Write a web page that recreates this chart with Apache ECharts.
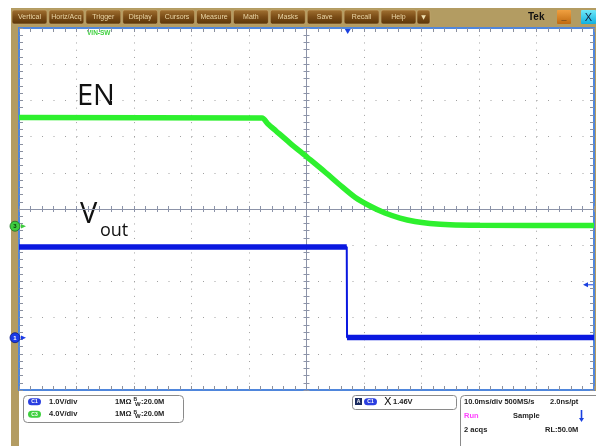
<!DOCTYPE html>
<html><head><meta charset="utf-8">
<script src="https://cdn.jsdelivr.net/npm/echarts@6/dist/echarts.min.js"></script>
<style>html,body{margin:0;padding:0;background:#fff}#c{width:596px;height:446px}</style>
</head><body><div id="c"></div>
<script>
// ---- data (time in ms, 10 ms/div; voltages in V) ----
const timeEN  = [-50, -7.74, -6.7, -5.3, -2.87, 0.09, 3.22, 5.83, 8.43, 11.04, 13.65, 16.26, 18.87, 21.48, 24.96, 30.17, 50];
const voltEN  = [12, 11.96, 11.29, 10.52, 9.19, 7.64, 5.99, 4.55, 3.2, 2.23, 1.45, 0.9, 0.52, 0.3, 0.15, 0.1, 0.08];
const timeVout = [-50, 7.0, 7.05, 50];
const voltVout = [2.5, 2.5, 0, 0];
const menuLabels = ['Vertical','Horiz/Acq','Trigger','Display','Cursors','Measure','Math','Masks','Save','Recall','Help'];
const timeRange = [-50, 50];      // 10 divisions
const gridDiv = [-5, 5];          // 10 vertical divisions
const c3Range = [-18.1, 21.9];    // 4.0 V/div
const c1Range = [-1.45, 8.55];    // 1.0 V/div

const chart = echarts.init(document.getElementById('c'), null, {renderer:'canvas'});
const BORDER = '#4f86dc', TICK = '#8a90a0', CENTER = '#8c93a8', DOT = '#a0a0a0';
const FRAME = '#b39c62';
const F = 'bold 7.5px "Liberation Sans", Arial, sans-serif';

function xa(extra){ return Object.assign({type:'value', min:timeRange[0], max:timeRange[1], interval:10,
  axisLabel:{show:false}, splitLine:{show:false}}, extra); }
function ya(extra){ return Object.assign({type:'value', min:gridDiv[0], max:gridDiv[1], interval:1,
  axisLabel:{show:false}, splitLine:{show:false}}, extra); }

const xAxis = [
  xa({position:'bottom', axisLine:{show:true, onZero:false, lineStyle:{color:BORDER, width:2}},
      axisTick:{show:true, inside:true, length:4, lineStyle:{color:TICK}},
      minorTick:{show:true, splitNumber:5, length:4, lineStyle:{color:TICK}},
      splitLine:{show:true, lineStyle:{color:DOT, width:1, type:[1, 6.24]}}}),
  xa({position:'top', axisLine:{show:true, onZero:false, lineStyle:{color:BORDER, width:2}},
      axisTick:{show:true, inside:true, length:4, lineStyle:{color:TICK}},
      minorTick:{show:true, splitNumber:5, length:4, lineStyle:{color:TICK}}}),
  xa({position:'bottom', axisLine:{show:true, onZero:true, onZeroAxisIndex:0, lineStyle:{color:CENTER, width:1}},
      axisTick:{show:true, inside:true, length:3, lineStyle:{color:CENTER}},
      minorTick:{show:true, splitNumber:5, length:3, lineStyle:{color:CENTER}}}),
  xa({position:'bottom', axisLine:{show:true, onZero:true, onZeroAxisIndex:0, lineStyle:{color:CENTER, width:1}},
      axisTick:{show:true, inside:false, length:3, lineStyle:{color:CENTER}},
      minorTick:{show:true, splitNumber:5, length:3, lineStyle:{color:CENTER}}})
];
const yAxis = [
  ya({position:'left', axisLine:{show:true, onZero:false, lineStyle:{color:BORDER, width:2}},
      axisTick:{show:true, inside:true, length:4, lineStyle:{color:TICK}},
      minorTick:{show:true, splitNumber:5, length:4, lineStyle:{color:TICK}},
      splitLine:{show:true, lineStyle:{color:DOT, width:1, type:[1, 10.5]}}}),
  ya({position:'right', axisLine:{show:true, onZero:false, lineStyle:{color:BORDER, width:2}},
      axisTick:{show:true, inside:true, length:4, lineStyle:{color:TICK}},
      minorTick:{show:true, splitNumber:5, length:4, lineStyle:{color:TICK}}}),
  ya({position:'left', axisLine:{show:true, onZero:true, onZeroAxisIndex:0, lineStyle:{color:CENTER, width:1}},
      axisTick:{show:true, inside:true, length:3, lineStyle:{color:CENTER}},
      minorTick:{show:true, splitNumber:5, length:3, lineStyle:{color:CENTER}}}),
  ya({position:'left', axisLine:{show:true, onZero:true, onZeroAxisIndex:0, lineStyle:{color:CENTER, width:1}},
      axisTick:{show:true, inside:false, length:3, lineStyle:{color:CENTER}},
      minorTick:{show:true, splitNumber:5, length:3, lineStyle:{color:CENTER}}}),
  {type:'value', show:false, min:c3Range[0], max:c3Range[1]},
  {type:'value', show:false, min:c1Range[0], max:c1Range[1]}
];

const graphic = [];
// frame
graphic.push({type:'rect', z:-10, shape:{x:11, y:8, width:585, height:20}, style:{fill:FRAME}});
graphic.push({type:'rect', z:-10, shape:{x:11, y:8, width:8, height:438}, style:{fill:FRAME}});
graphic.push({type:'rect', z:-10, shape:{x:594, y:8, width:2, height:383}, style:{fill:FRAME}});
// menu buttons
const grad = () => new echarts.graphic.LinearGradient(0,0,0,1,[{offset:0,color:'#a27232'},{offset:0.5,color:'#7a4c16'},{offset:1,color:'#5a3508'}]);
menuLabels.forEach((t,i)=>{
  const x = 12 + i*36.9;
  graphic.push({type:'rect', shape:{x:x, y:10, width:35, height:14, r:2}, style:{fill:grad(), stroke:'#c8a870', lineWidth:0.6}});
  graphic.push({type:'text', x:x+17.5, y:17.5, style:{text:t, font:'7px "Liberation Sans", Arial, sans-serif', fill:'#ecd8a8', align:'center', verticalAlign:'middle'}});
});
graphic.push({type:'rect', shape:{x:417, y:10, width:13, height:14, r:2}, style:{fill:grad(), stroke:'#c8a870', lineWidth:0.6}});
graphic.push({type:'text', x:423.5, y:17.5, style:{text:'▼', font:'6px "DejaVu Sans", sans-serif', fill:'#f0e0b0', align:'center', verticalAlign:'middle'}});
graphic.push({type:'text', x:528, y:17, style:{text:'Tek', font:'bold 10px "Liberation Sans", Arial, sans-serif', fill:'#111', verticalAlign:'middle'}});
graphic.push({type:'rect', shape:{x:557, y:10, width:14, height:14, r:1}, style:{fill:new echarts.graphic.LinearGradient(0,0,0,1,[{offset:0,color:'#f0a040'},{offset:1,color:'#c06a10'}])}});
graphic.push({type:'text', x:564, y:18, style:{text:'_', font:'bold 9px "Liberation Sans", Arial, sans-serif', fill:'#222', align:'center', verticalAlign:'middle'}});
graphic.push({type:'rect', shape:{x:581, y:10, width:15, height:14, r:1}, style:{fill:new echarts.graphic.LinearGradient(0,0,0,1,[{offset:0,color:'#70e8f8'},{offset:1,color:'#10b0e0'}])}});
graphic.push({type:'text', x:588.5, y:17.5, style:{text:'X', font:'11px "Liberation Sans", Arial, sans-serif', fill:'#102040', align:'center', verticalAlign:'middle'}});
// VIN-SW label, trigger marker
graphic.push({type:'text', x:87, y:33, style:{text:'VIN-SW', font:'bold 6.5px "Liberation Sans", Arial, sans-serif', fill:'#3ed03e', verticalAlign:'middle'}});
graphic.push({type:'polygon', shape:{points:[[344.5,28.5],[351,28.5],[347.7,34]]}, style:{fill:'#1a40e0'}});
// EN / Vout labels
graphic.push({type:'text', x:77, y:97, style:{text:'EN', font:'29px "Open Sans", "Noto Sans", sans-serif', fill:'#111', verticalAlign:'middle'}});
graphic.push({type:'text', x:80, y:215, style:{text:'V', font:'29px "Open Sans", "Noto Sans", sans-serif', fill:'#111', verticalAlign:'middle'}});
graphic.push({type:'text', x:100, y:231, style:{text:'out', font:'18px "Open Sans", "Noto Sans", sans-serif', fill:'#111', verticalAlign:'middle'}});
// ground markers
graphic.push({type:'circle', z:20, shape:{cx:15, cy:226.2, r:5}, style:{fill:'#3ecc3e', stroke:'#207020', lineWidth:0.8}});
graphic.push({type:'text', z:21, x:15, y:226.4, style:{text:'3', font:'bold 6px "Liberation Sans", Arial, sans-serif', fill:'#0a3a0a', align:'center', verticalAlign:'middle'}});
graphic.push({type:'polygon', z:20, shape:{points:[[21,224],[26,226.2],[21,228.4]]}, style:{fill:'#3ecc3e'}});
graphic.push({type:'circle', z:20, shape:{cx:15, cy:337.7, r:5}, style:{fill:'#1a3ae8', stroke:'#0a1a80', lineWidth:0.8}});
graphic.push({type:'text', z:21, x:15, y:338, style:{text:'1', font:'bold 6px "Liberation Sans", Arial, sans-serif', fill:'#fff', align:'center', verticalAlign:'middle'}});
graphic.push({type:'polygon', z:20, shape:{points:[[21,335.5],[26,337.7],[21,339.9]]}, style:{fill:'#1a3ae8'}});
// trigger level arrow (right)
graphic.push({type:'polygon', z:20, shape:{points:[[583,284.8],[588,282.3],[588,287.3]]}, style:{fill:'#1a40e0'}});
graphic.push({type:'line', z:20, shape:{x1:587, y1:284.8, x2:593, y2:284.8}, style:{stroke:'#1a40e0', lineWidth:1}});
// info boxes
graphic.push({type:'rect', shape:{x:23.5, y:395.5, width:160, height:27, r:4}, style:{fill:'#fff', stroke:'#8a8a8a', lineWidth:1}});
graphic.push({type:'rect', shape:{x:352.5, y:395.5, width:104, height:14, r:3}, style:{fill:'#fff', stroke:'#8a8a8a', lineWidth:1}});
graphic.push({type:'rect', shape:{x:460.5, y:395.5, width:140, height:60, r:4}, style:{fill:'#fff', stroke:'#8a8a8a', lineWidth:1}});
function pill(x, y, label, color){
  graphic.push({type:'rect', shape:{x:x, y:y-3.5, width:13, height:7, r:3.5}, style:{fill:color}});
  graphic.push({type:'text', x:x+6.5, y:y, style:{text:label, font:'bold 5px "Liberation Sans", Arial, sans-serif', fill:'#fff', align:'center', verticalAlign:'middle'}});
}
function txt(x, y, t, color){ graphic.push({type:'text', x:x, y:y, style:{text:t, font:F, fill:color||'#222', verticalAlign:'middle'}}); }
pill(28, 401.7, 'C1', '#2a3ee0'); txt(49, 401.7, '1.0V/div'); txt(115, 401.7, '1MΩ');
pill(28, 414.3, 'C3', '#3ed03e'); txt(49, 414.3, '4.0V/div'); txt(115, 414.3, '1MΩ');
[401.7, 414.3].forEach(y=>{
  graphic.push({type:'text', x:133.5, y:y-2, style:{text:'B', font:'bold 5px "Liberation Sans", Arial, sans-serif', fill:'#222', verticalAlign:'middle'}});
  graphic.push({type:'text', x:135, y:y+2.5, style:{text:'W', font:'bold 6px "Liberation Sans", Arial, sans-serif', fill:'#222', verticalAlign:'middle'}});
  txt(141, y, ':20.0M');
});
graphic.push({type:'rect', shape:{x:355, y:398, width:7, height:7}, style:{fill:'#1a2a60'}});
graphic.push({type:'text', x:358.5, y:401.7, style:{text:'A', font:'bold 5px "Liberation Sans", Arial, sans-serif', fill:'#fff', align:'center', verticalAlign:'middle'}});
pill(364, 401.7, 'C1', '#2a3ee0');
graphic.push({type:'text', x:384, y:401.7, style:{text:'X', font:'11px "DejaVu Sans", sans-serif', fill:'#111', verticalAlign:'middle'}});
txt(393, 401.7, '1.46V');
txt(464, 401.7, '10.0ms/div 500MS/s'); txt(550, 401.7, '2.0ns/pt');
txt(464, 416, 'Run', '#ff40ff'); txt(513, 416, 'Sample');
graphic.push({type:'line', shape:{x1:581.5, y1:410, x2:581.5, y2:419}, style:{stroke:'#1a40e0', lineWidth:1.6}});
graphic.push({type:'polygon', shape:{points:[[579,418],[584,418],[581.5,422]]}, style:{fill:'#1a40e0'}});
txt(464, 430, '2 acqs'); txt(545, 430, 'RL:50.0M');

// Vout: flat segments drawn thick, edges drawn thin (like a scope trace)
const voutPts = timeVout.map((t,i)=>[t, voltVout[i]]);
const voutFlat = [];
for (let i = 0; i < voutPts.length; i++) {
  voutFlat.push(voutPts[i]);
  if (i < voutPts.length - 1 && voltVout[i] !== voltVout[i+1]) voutFlat.push([(timeVout[i]+timeVout[i+1])/2, '-']);
}

chart.setOption({
  animation:false,
  backgroundColor:'#fff',
  grid:{left:19, top:28, width:575, height:362},
  xAxis: xAxis,
  yAxis: yAxis,
  series:[
    {type:'line', name:'EN', xAxisIndex:0, yAxisIndex:4, showSymbol:false, z:5, smooth:0.25,
     data: timeEN.map((t,i)=>[t, voltEN[i]]), lineStyle:{color:'#2ef02e', width:5.5}},
    {type:'line', name:'Vout edge', xAxisIndex:0, yAxisIndex:5, showSymbol:false, z:6,
     data: voutPts, lineStyle:{color:'#0a18e0', width:2}},
    {type:'line', name:'Vout', xAxisIndex:0, yAxisIndex:5, showSymbol:false, z:6, connectNulls:false,
     data: voutFlat, lineStyle:{color:'#0a18e0', width:5.5, cap:'butt'}}
  ],
  graphic: graphic
});
</script></body></html>
